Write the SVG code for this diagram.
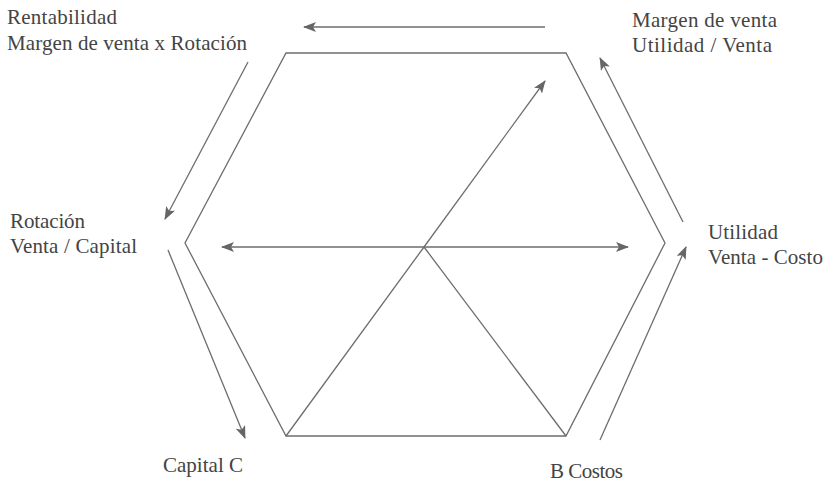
<svg xmlns="http://www.w3.org/2000/svg" width="829" height="487" viewBox="0 0 829 487">
<defs>
<style>
.ln{stroke:#6d6d6d;stroke-width:1.3;fill:none}
.ar{stroke:#6d6d6d;stroke-width:1.3;fill:none;marker-end:url(#ah)}
text{font-family:'Liberation Serif','Times New Roman',serif;font-size:21px;fill:#444}
</style>
<marker id="ah" markerUnits="userSpaceOnUse" markerWidth="14" markerHeight="10" refX="12" refY="5" orient="auto-start-reverse">
<path d="M0,0 L13,5 L0,10 L3,5 z" fill="#666"/>
</marker>
</defs>
<g id="hexagon">
<polygon class="ln" points="286,53 566,53 665,243 566,436 286,436 185,243"/>
</g>
<g id="connectors">
<line class="ln" x1="286" y1="436" x2="424" y2="247"/>
<line class="ar" x1="424" y1="247" x2="545" y2="81"/>
<line class="ln" x1="424" y1="247" x2="566" y2="436"/>
<line class="ar" x1="424" y1="247" x2="628" y2="247"/>
<line class="ar" x1="424" y1="247" x2="222" y2="247"/>
<line class="ar" x1="545" y1="27" x2="304" y2="27"/>
<line class="ar" x1="248" y1="62" x2="165" y2="219"/>
<line class="ar" x1="168" y1="250" x2="245" y2="438"/>
<line class="ar" x1="600" y1="440" x2="686" y2="247"/>
<line class="ar" x1="683" y1="222" x2="600" y2="58"/>
</g>
<g id="rentabilidad" font-family="Liberation Serif, serif">
<text x="7" y="24" textLength="110">Rentabilidad</text>
<text x="7" y="50" textLength="240">Margen de venta x Rotación</text>
</g>
<g id="margen" font-family="Liberation Serif, serif">
<text x="632" y="27" textLength="145">Margen de venta</text>
<text x="632" y="52" textLength="140">Utilidad / Venta</text>
</g>
<g id="rotacion" font-family="Liberation Serif, serif">
<text x="10" y="228" textLength="75">Rotación</text>
<text x="10" y="253" textLength="127">Venta / Capital</text>
</g>
<g id="utilidad" font-family="Liberation Serif, serif">
<text x="708" y="239" textLength="70">Utilidad</text>
<text x="708" y="264" textLength="115">Venta - Costo</text>
</g>
<g id="capital" font-family="Liberation Serif, serif">
<text x="163" y="472" textLength="80">Capital C</text>
</g>
<g id="costos" font-family="Liberation Serif, serif">
<text x="550" y="478" textLength="73">B Costos</text>
</g>
</svg>
